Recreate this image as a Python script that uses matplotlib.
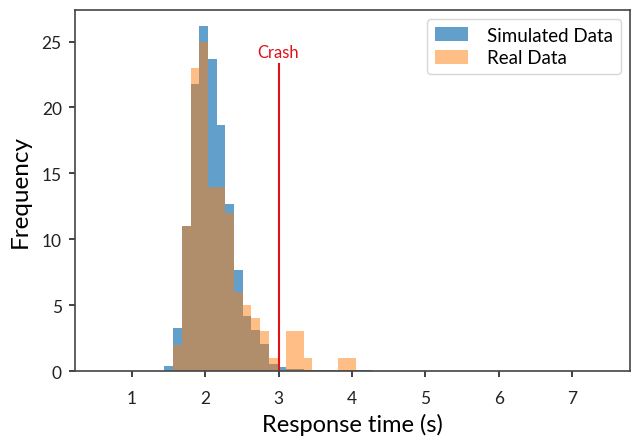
import numpy as np
import matplotlib.pyplot as plt

# shared bin edges (s)
bin_start = 0.614
bin_width = 0.1186
n_bins = 58
edges = bin_start + bin_width * np.arange(n_bins + 1)

# counts per bin, starting at bin index 7 (left edge ~1.44 s)
first_bin = 7
sim_counts = [0.4, 3.3, 11.0, 21.8, 26.2, 23.7, 18.7, 12.7, 7.7, 4.15, 3.1, 2.05,
              0.55, 0.3, 0.12, 0.12, 0.1, 0.08, 0.08, 0.08, 0.06, 0.06, 0.05, 0.05]
real_counts = [0, 2, 11, 23, 25, 14, 14, 12, 6, 5, 4, 3,
               1, 0, 3, 3, 1, 0, 0, 0, 1, 1, 0, 0]

crash_time = 3.0
crash_top = 23.3


def full(counts):
    out = np.zeros(n_bins)
    out[first_bin:first_bin + len(counts)] = counts
    return out


plt.rcParams['font.family'] = ['Lato', 'DejaVu Sans']

fig = plt.figure(figsize=(6.31, 4.39), dpi=100)
ax = fig.add_axes([0.1189, 0.1526, 0.8795, 0.8224])

centers = edges[:-1] + bin_width / 2
ax.hist(centers, bins=edges, weights=full(sim_counts), color='C0', alpha=0.7,
        label='Simulated Data')
ax.hist(centers, bins=edges, weights=full(real_counts), color='C1', alpha=0.5,
        label='Real Data')

ax.plot([crash_time, crash_time], [0, crash_top], color='#e0101a', lw=1.5)
ax.text(crash_time, crash_top + 0.3, 'Crash', color='#e0101a', ha='center',
        va='bottom', fontsize=12)

ax.set_xlim(0.226, 7.79)
ax.set_ylim(0, 27.4)
ax.set_xticks(range(1, 8))
ax.set_yticks(range(0, 26, 5))
ax.tick_params(labelsize=12.5, colors='#222222', length=4.5, width=1.2)
ax.tick_params(axis='x', pad=9)
ax.tick_params(axis='y', pad=5)

for s in ax.spines.values():
    s.set_color('#444444')
    s.set_linewidth(1.2)

ax.set_xlabel('Response time (s)', fontsize=17, labelpad=5)
ax.set_ylabel('Frequency', fontsize=17.5, labelpad=8)

ax.legend(loc='upper right', fontsize=13.5, borderaxespad=0.5,
          handlelength=1.8, handleheight=0.75, labelspacing=0.3,
          handletextpad=1.0, borderpad=0.4)

fig.savefig('out.png', dpi=100)
